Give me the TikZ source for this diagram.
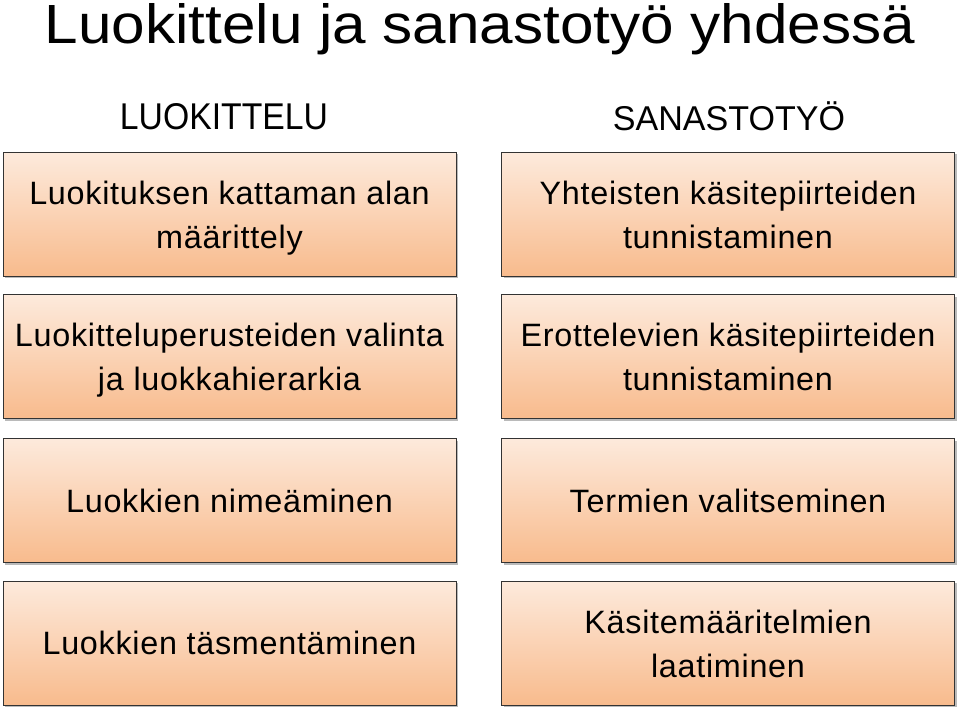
\documentclass[tikz,border=0pt]{standalone}
\usepackage{fontspec}
\setmainfont{Liberation Sans}
\newfontfamily\boxfont[LetterSpace=2.2]{Liberation Sans}
\usetikzlibrary{shadows}
\setlength{\tabcolsep}{0pt}
\definecolor{peachtop}{HTML}{FDEADC}
\definecolor{peachbottom}{HTML}{F8BB8D}
\newcommand{\twolines}[2]{\raisebox{-2.5pt}[\height][\depth]{\begin{tabular}{c}#1\\#2\end{tabular}}}

\begin{document}
\begin{tikzpicture}[x=0.025cm, y=-0.025cm,
	box/.style = {draw=black!80, thin, minimum width=453*0.025cm, minimum height=124*0.025cm,
		inner xsep=0pt, align=center, top color=peachtop, bottom color=peachbottom,
		drop shadow={shadow xshift=0.05cm, shadow yshift=-0.06cm, opacity=0.45, fill=black!60},
		font=\boxfont\fontsize{23}{31}\selectfont}]
			\useasboundingbox (0,0) rectangle (960,710);
			\node (title) at (480,29) {\resizebox{21.75cm}{1.0cm}{Luokittelu ja sanastotyö yhdessä}};
			\node (h1) at (224,117) {\resizebox{5.2cm}{0.65cm}{LUOKITTELU}};
			\node (h2) at (729,116) {\resizebox{5.8cm}{0.72cm}{SANASTOTYÖ}};
			
			\node[box] (l1) at (229.5,214) {\twolines{Luokituksen kattaman alan}{määrittely}};
			\node[box] (l2) at (229.5,356.5) {\twolines{Luokitteluperusteiden valinta}{ja luokkahierarkia}};
			\node[box] (l3) at (229.5,500.5) {Luokkien nimeäminen};
			\node[box] (l4) at (229.5,643) {Luokkien täsmentäminen};
			
			\node[box] (r1) at (728,214) {\twolines{Yhteisten käsitepiirteiden}{tunnistaminen}};
			\node[box] (r2) at (728,356.5) {\twolines{Erottelevien käsitepiirteiden}{tunnistaminen}};
			\node[box] (r3) at (728,500.5) {Termien valitseminen};
			\node[box] (r4) at (728,643) {\twolines{Käsitemääritelmien}{laatiminen}};
		\end{tikzpicture}
\end{document}
